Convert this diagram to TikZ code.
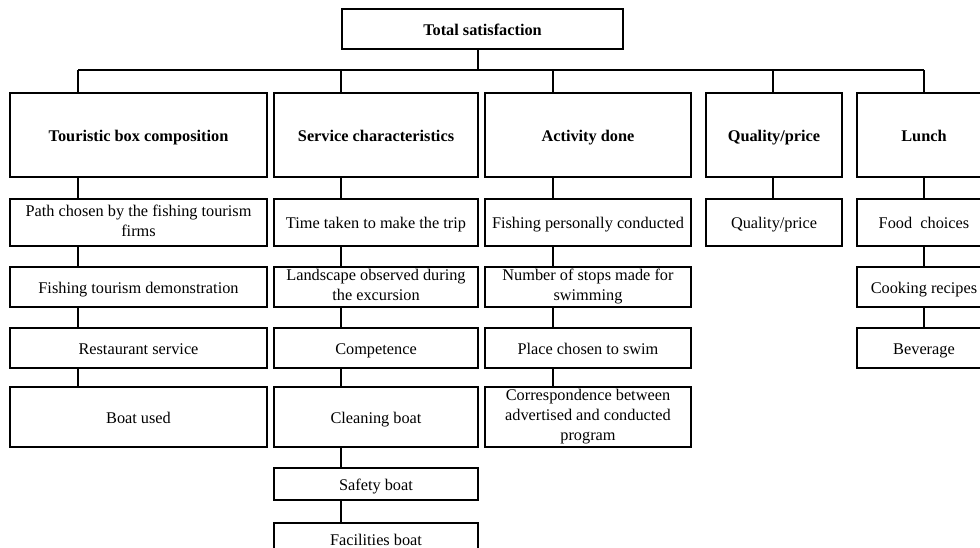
\documentclass[tikz,border=0pt]{standalone}
\usepackage{fontspec}
\setmainfont{Liberation Serif}
\newcommand\boxstrut{\rule[-4pt]{0pt}{21pt}}

\begin{document}
\begin{tikzpicture}[
        x=1pt, y=-1pt,
        box/.style = {draw, line width=1.3pt, inner sep=0pt, align=center, font=\fontsize{16.3}{20.3}\selectfont,
                      execute at begin node=\boxstrut, execute at end node=\boxstrut},
        head/.style = {box, line width=2pt, font=\fontsize{16.3}{20.3}\selectfont\bfseries, minimum height=84pt},
        rowA/.style = {box, minimum height=47pt},
        rowB/.style = {box, minimum height=40pt},
        rowC/.style = {box, minimum height=60pt},
        rowD/.style = {box, minimum height=32pt},
        wire/.style = {line width=1.4pt}
    ]
    \useasboundingbox (0,0) rectangle (980,548);
    \node[head, minimum width=281pt, minimum height=40pt] (total) at (482.5,29) {Total satisfaction};

    \node[head, minimum width=257pt] (tbc) at (138.5,135) {Touristic box composition};
    \node[head, minimum width=204pt] (sc) at (376,135) {Service characteristics};
    \node[head, minimum width=206pt] (ad) at (588,135) {Activity done};
    \node[head, minimum width=136pt] (qp) at (774,135) {Quality/price};
    \node[head, minimum width=134pt] (lu) at (924,135) {Lunch};

    \node[rowA, minimum width=257pt] (t1) at (138.5,222.5) {Path chosen by the fishing tourism\\firms};
    \node[rowB, minimum width=257pt] (t2) at (138.5,287) {Fishing tourism demonstration};
    \node[rowB, minimum width=257pt] (t3) at (138.5,348) {Restaurant service};
    \node[rowC, minimum width=257pt] (t4) at (138.5,417) {Boat used};

    \node[rowA, minimum width=204pt] (c1) at (376,222.5) {Time taken to make the trip};
    \node[rowB, minimum width=204pt] (c2) at (376,287) {Landscape observed during\\the excursion};
    \node[rowB, minimum width=204pt] (c3) at (376,348) {Competence};
    \node[rowC, minimum width=204pt] (c4) at (376,417) {Cleaning boat};
    \node[rowD, minimum width=204pt] (c5) at (376,484) {Safety boat};
    \node[rowD, minimum width=204pt] (c6) at (376,539) {Facilities boat};

    \node[rowA, minimum width=206pt] (a1) at (588,222.5) {Fishing personally conducted};
    \node[rowB, minimum width=206pt] (a2) at (588,287) {Number of stops made for\\swimming};
    \node[rowB, minimum width=206pt] (a3) at (588,348) {Place chosen to swim};
    \node[rowC, minimum width=206pt] (a4) at (588,417) {Correspondence between\\advertised and conducted\\program};

    \node[rowA, minimum width=136pt] (q1) at (774,222.5) {Quality/price};

    \node[rowA, minimum width=134pt] (l1) at (924,222.5) {Food~ choices};
    \node[rowB, minimum width=134pt] (l2) at (924,287) {Cooking recipes};
    \node[rowB, minimum width=134pt] (l3) at (924,348) {Beverage};

    \coordinate (bus) at (0,70);
    \coordinate (s1) at (78,0);
    \coordinate (s2) at (341,0);
    \coordinate (s3) at (553,0);
    \coordinate (s4) at (773,0);
    \coordinate (s5) at (924,0);

    \draw[wire] ([xshift=-4.5pt]total.south) -- ([xshift=-4.5pt]total.south |- bus);
    \draw[wire, line width=2pt] (s1 |- bus) -- (s5 |- bus);
    \foreach \n/\s in {tbc/s1, sc/s2, ad/s3, qp/s4, lu/s5}
        \draw[wire] (\s |- bus) -- (\n.north -| \s);
    \foreach \a/\b/\s in {tbc/t1/s1, t1/t2/s1, t2/t3/s1, t3/t4/s1,
                          sc/c1/s2, c1/c2/s2, c2/c3/s2, c3/c4/s2, c4/c5/s2, c5/c6/s2,
                          ad/a1/s3, a1/a2/s3, a2/a3/s3, a3/a4/s3,
                          qp/q1/s4, lu/l1/s5, l1/l2/s5, l2/l3/s5}
        \draw[wire] (\a.south -| \s) -- (\b.north -| \s);
\end{tikzpicture}
\end{document}
